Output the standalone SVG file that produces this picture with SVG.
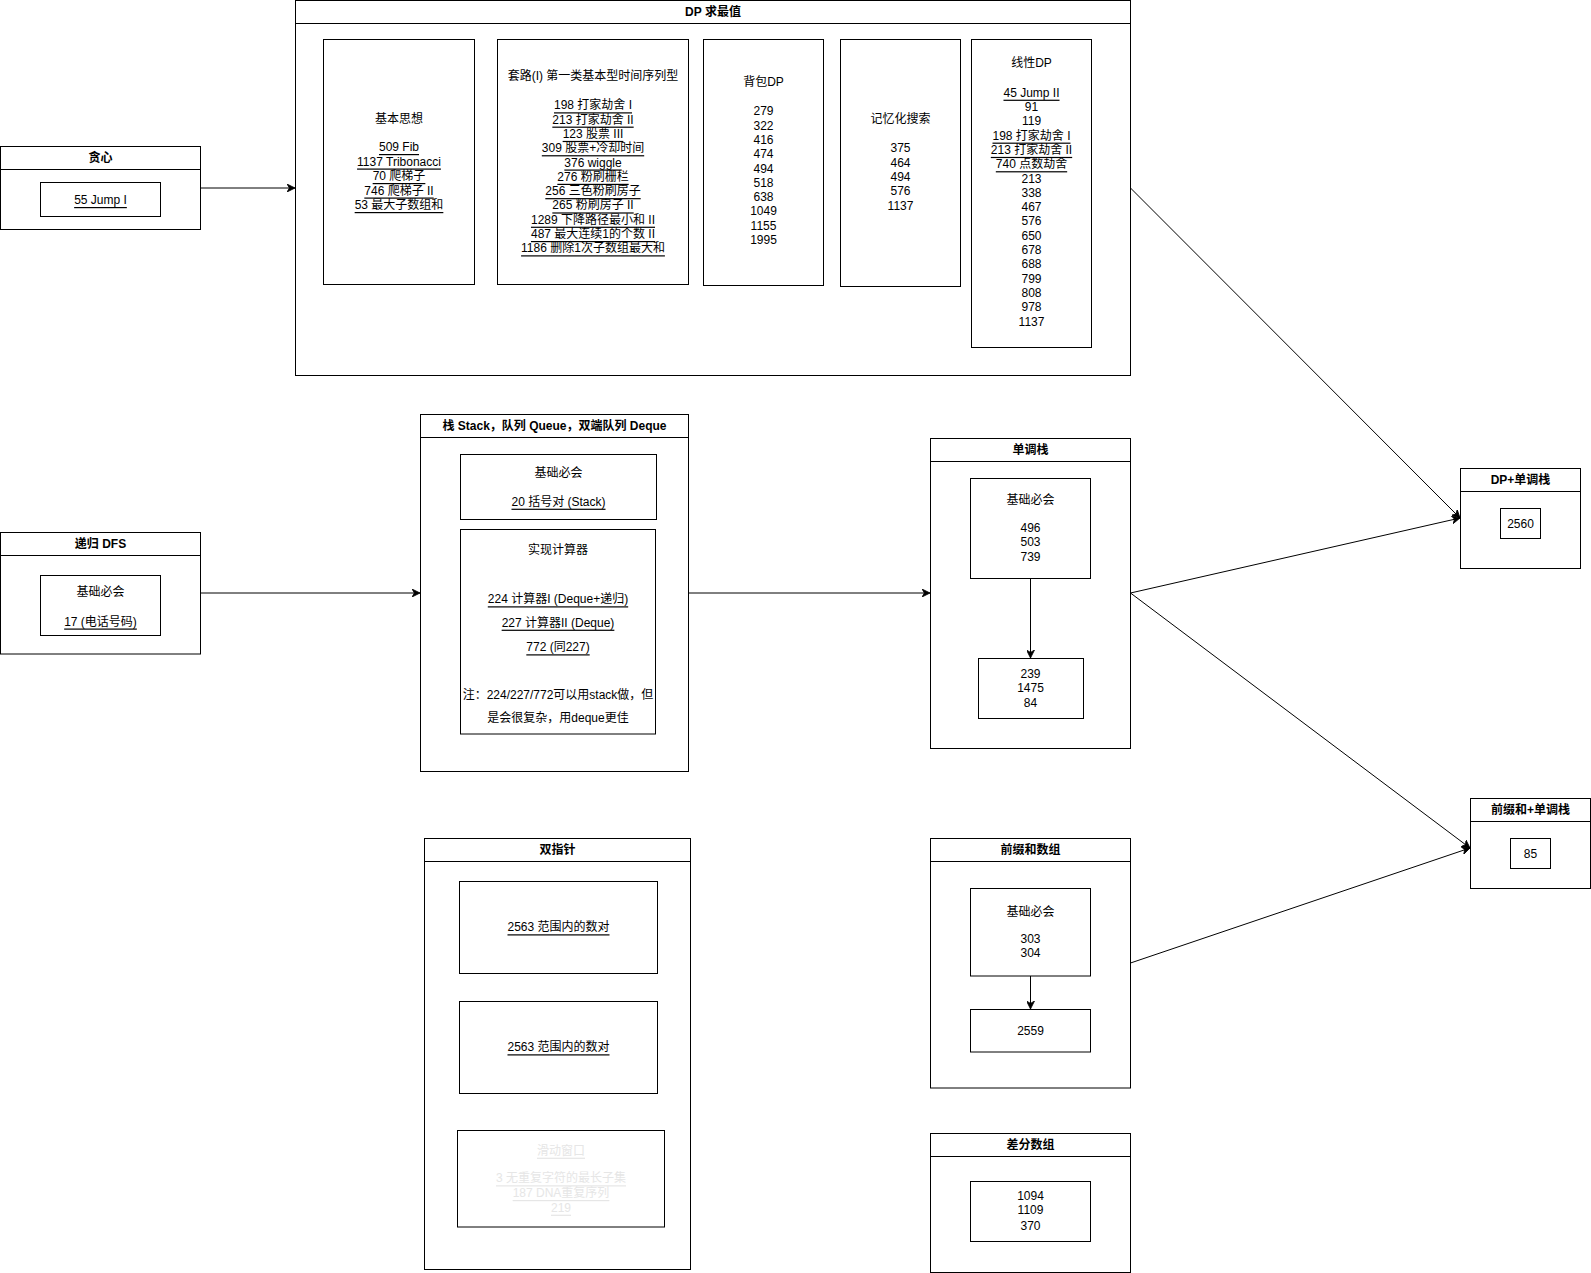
<svg xmlns="http://www.w3.org/2000/svg" width="1591" height="1273" viewBox="0 0 1591 1273">
  <defs>
    <style>
      .box { fill: #ffffff; stroke: #000000; stroke-width: 1; }
      .hdr { fill: none; stroke: #000000; stroke-width: 1; }
      text { font-family: "Liberation Sans", "Noto Sans CJK SC", sans-serif; font-size: 12px; fill: #000000; text-anchor: middle; dominant-baseline: central; }
      .title { font-weight: bold; }
      .u { text-decoration: underline; }
      .faded { fill: #e6e6e6; }
      .edge { fill: none; stroke: #000000; stroke-width: 1; }
    </style>
    <marker id="arrow" viewBox="0 0 10 10" refX="10" refY="5" markerWidth="8" markerHeight="8" markerUnits="userSpaceOnUse" orient="auto">
      <path d="M0,0 L10,5 L0,10 L3,5 z" fill="#000000" stroke="#000000" stroke-width="1"/>
    </marker>
  </defs>
  <rect width="1591" height="1273" fill="#ffffff"/>

  <!-- DP container -->
  <g id="dp">
    <rect class="box" x="295.5" y="0.5" width="835" height="375"/>
    <line class="hdr" x1="295.5" y1="23.5" x2="1130.5" y2="23.5"/>
    <text class="title" x="713" y="11.5">DP 求最值</text>
  </g>
  <g id="dp-basic">
    <rect class="box" x="323.5" y="39.5" width="151" height="245"/>
    <text x="399" y="119">基本思想</text>
    <text x="399" y="147" class="u">509 Fib</text>
    <text x="399" y="161.5" class="u">1137 Tribonacci</text>
    <text x="399" y="176" class="u">70 爬梯子</text>
    <text x="399" y="190.5" class="u">746 爬梯子 II</text>
    <text x="399" y="205" class="u">53 最大子数组和</text>
  </g>
  <g id="dp-pattern">
    <rect class="box" x="497.5" y="39.5" width="191" height="245"/>
    <text x="593" y="76">套路(I) 第一类基本型时间序列型</text>
    <text x="593" y="105.3" class="u">198 打家劫舍 I</text>
    <text x="593" y="119.6" class="u">213 打家劫舍 II</text>
    <text x="593" y="133.9" class="u">123 股票 III</text>
    <text x="593" y="148.2" class="u">309 股票+冷却时间</text>
    <text x="593" y="162.5" class="u">376 wiggle</text>
    <text x="593" y="176.8" class="u">276 粉刷栅栏</text>
    <text x="593" y="191.1" class="u">256 三色粉刷房子</text>
    <text x="593" y="205.4" class="u">265 粉刷房子 II</text>
    <text x="593" y="219.7" class="u">1289 下降路径最小和 II</text>
    <text x="593" y="234" class="u">487 最大连续1的个数 II</text>
    <text x="593" y="248.3" class="u">1186 删除1次子数组最大和</text>
  </g>
  <g id="dp-knapsack">
    <rect class="box" x="703.5" y="39.5" width="120" height="246"/>
    <text x="763.5" y="82">背包DP</text>
    <text x="763.5" y="111.3">279</text>
    <text x="763.5" y="125.6">322</text>
    <text x="763.5" y="139.9">416</text>
    <text x="763.5" y="154.2">474</text>
    <text x="763.5" y="168.5">494</text>
    <text x="763.5" y="182.8">518</text>
    <text x="763.5" y="197.1">638</text>
    <text x="763.5" y="211.4">1049</text>
    <text x="763.5" y="225.7">1155</text>
    <text x="763.5" y="240">1995</text>
  </g>
  <g id="dp-memo">
    <rect class="box" x="840.5" y="39.5" width="120" height="247"/>
    <text x="900.5" y="119.3">记忆化搜索</text>
    <text x="900.5" y="148.3">375</text>
    <text x="900.5" y="162.6">464</text>
    <text x="900.5" y="176.9">494</text>
    <text x="900.5" y="191.2">576</text>
    <text x="900.5" y="205.5">1137</text>
  </g>
  <g id="dp-linear">
    <rect class="box" x="971.5" y="39.5" width="120" height="308"/>
    <text x="1031.5" y="63">线性DP</text>
    <text x="1031.5" y="92.7" class="u">45 Jump II</text>
    <text x="1031.5" y="107">91</text>
    <text x="1031.5" y="121.3">119</text>
    <text x="1031.5" y="135.6" class="u">198 打家劫舍 I</text>
    <text x="1031.5" y="149.9" class="u">213 打家劫舍 II</text>
    <text x="1031.5" y="164.2" class="u">740 点数劫舍</text>
    <text x="1031.5" y="178.5">213</text>
    <text x="1031.5" y="192.8">338</text>
    <text x="1031.5" y="207.1">467</text>
    <text x="1031.5" y="221.4">576</text>
    <text x="1031.5" y="235.7">650</text>
    <text x="1031.5" y="250">678</text>
    <text x="1031.5" y="264.3">688</text>
    <text x="1031.5" y="278.6">799</text>
    <text x="1031.5" y="292.9">808</text>
    <text x="1031.5" y="307.2">978</text>
    <text x="1031.5" y="321.5">1137</text>
  </g>

  <!-- greedy -->
  <g id="greedy">
    <rect class="box" x="0.5" y="146.5" width="200" height="83"/>
    <line class="hdr" x1="0.5" y1="169.5" x2="200.5" y2="169.5"/>
    <text class="title" x="100.5" y="158">贪心</text>
    <rect class="box" x="40.5" y="182.5" width="120" height="34"/>
    <text x="100.5" y="200" class="u">55 Jump I</text>
  </g>

  <!-- recursion DFS -->
  <g id="dfs">
    <rect class="box" x="0.5" y="532.5" width="200" height="121.5"/>
    <line class="hdr" x1="0.5" y1="555.5" x2="200.5" y2="555.5"/>
    <text class="title" x="100.5" y="544">递归 DFS</text>
    <rect class="box" x="40.5" y="575.5" width="120" height="60"/>
    <text x="100.5" y="592">基础必会</text>
    <text x="100.5" y="621.5" class="u">17 (电话号码)</text>
  </g>

  <!-- stack / queue / deque -->
  <g id="stack">
    <rect class="box" x="420.5" y="414.5" width="268" height="357"/>
    <line class="hdr" x1="420.5" y1="437.5" x2="688.5" y2="437.5"/>
    <text class="title" x="554.5" y="426">栈 Stack，队列 Queue，双端队列 Deque</text>
    <rect class="box" x="460.5" y="454.5" width="196" height="65"/>
    <text x="558.5" y="473.3">基础必会</text>
    <text x="558.5" y="501.7" class="u">20 括号对 (Stack)</text>
    <rect class="box" x="460.5" y="529.5" width="195" height="204.5"/>
    <text x="558" y="550">实现计算器</text>
    <text x="558" y="599.3" class="u">224 计算器I (Deque+递归)</text>
    <text x="558" y="622.7" class="u">227 计算器II (Deque)</text>
    <text x="558" y="647.3" class="u">772 (同227)</text>
    <text x="558" y="695">注：224/227/772可以用stack做，但</text>
    <text x="558" y="718.3">是会很复杂，用deque更佳</text>
  </g>

  <!-- monotonic stack -->
  <g id="mono-stack">
    <rect class="box" x="930.5" y="438.5" width="200" height="310"/>
    <line class="hdr" x1="930.5" y1="461.5" x2="1130.5" y2="461.5"/>
    <text class="title" x="1030.5" y="450">单调栈</text>
    <rect class="box" x="970.5" y="478.5" width="120" height="100"/>
    <text x="1030.5" y="500">基础必会</text>
    <text x="1030.5" y="527.7">496</text>
    <text x="1030.5" y="542">503</text>
    <text x="1030.5" y="556.5">739</text>
    <rect class="box" x="978.5" y="658.5" width="105" height="60"/>
    <text x="1030.5" y="674">239</text>
    <text x="1030.5" y="688.3">1475</text>
    <text x="1030.5" y="702.6">84</text>
  </g>

  <!-- two pointers -->
  <g id="two-pointers">
    <rect class="box" x="424.5" y="838.5" width="266" height="431"/>
    <line class="hdr" x1="424.5" y1="861.5" x2="690.5" y2="861.5"/>
    <text class="title" x="557.5" y="850">双指针</text>
    <rect class="box" x="459.5" y="881.5" width="198" height="92"/>
    <text x="558.5" y="927.3" class="u">2563 范围内的数对</text>
    <rect class="box" x="459.5" y="1001.5" width="198" height="92"/>
    <text x="558.5" y="1047.3" class="u">2563 范围内的数对</text>
    <rect class="box" x="457.5" y="1130.5" width="207" height="96.5"/>
    <text x="561" y="1150.7" class="u faded">滑动窗口</text>
    <text x="561" y="1178.3" class="u faded">3 无重复字符的最长子集</text>
    <text x="561" y="1193" class="u faded">187 DNA重复序列</text>
    <text x="561" y="1207.7" class="u faded">219</text>
  </g>

  <!-- prefix sum -->
  <g id="prefix-sum">
    <rect class="box" x="930.5" y="838.5" width="200" height="249.5"/>
    <line class="hdr" x1="930.5" y1="861.5" x2="1130.5" y2="861.5"/>
    <text class="title" x="1030.5" y="850">前缀和数组</text>
    <rect class="box" x="970.5" y="888.5" width="120" height="87.5"/>
    <text x="1030.5" y="911.7">基础必会</text>
    <text x="1030.5" y="939">303</text>
    <text x="1030.5" y="953.3">304</text>
    <rect class="box" x="970.5" y="1009.5" width="120" height="42.5"/>
    <text x="1030.5" y="1030.7">2559</text>
  </g>

  <!-- difference array -->
  <g id="diff-array">
    <rect class="box" x="930.5" y="1133.5" width="200" height="139"/>
    <line class="hdr" x1="930.5" y1="1156.5" x2="1130.5" y2="1156.5"/>
    <text class="title" x="1030.5" y="1144.5">差分数组</text>
    <rect class="box" x="970.5" y="1181.5" width="120" height="60"/>
    <text x="1030.5" y="1196">1094</text>
    <text x="1030.5" y="1210.3">1109</text>
    <text x="1030.5" y="1225.6">370</text>
  </g>

  <!-- DP + monotonic stack -->
  <g id="dp-mono">
    <rect class="box" x="1460.5" y="468.5" width="120" height="100"/>
    <line class="hdr" x1="1460.5" y1="491.5" x2="1580.5" y2="491.5"/>
    <text class="title" x="1520.5" y="480">DP+单调栈</text>
    <rect class="box" x="1500.5" y="508.5" width="40" height="30"/>
    <text x="1520.5" y="523.5">2560</text>
  </g>

  <!-- prefix sum + monotonic stack -->
  <g id="prefix-mono">
    <rect class="box" x="1470.5" y="798.5" width="120" height="90"/>
    <line class="hdr" x1="1470.5" y1="821.5" x2="1590.5" y2="821.5"/>
    <text class="title" x="1530.5" y="810">前缀和+单调栈</text>
    <rect class="box" x="1510.5" y="838.5" width="40" height="30"/>
    <text x="1530.5" y="853.5">85</text>
  </g>

  <!-- connectors, drawn last so inner arrows sit above container fills -->
  <g id="connectors">
    <line class="edge" x1="200.5" y1="188" x2="295" y2="188" marker-end="url(#arrow)"/>
    <line class="edge" x1="200.5" y1="593" x2="420" y2="593" marker-end="url(#arrow)"/>
    <line class="edge" x1="688.5" y1="593" x2="930" y2="593" marker-end="url(#arrow)"/>
    <line class="edge" x1="1130.5" y1="188" x2="1460" y2="518" marker-end="url(#arrow)"/>
    <line class="edge" x1="1130.5" y1="593" x2="1460" y2="518" marker-end="url(#arrow)"/>
    <line class="edge" x1="1130.5" y1="593" x2="1470" y2="848" marker-end="url(#arrow)"/>
    <line class="edge" x1="1130.5" y1="963" x2="1470" y2="848" marker-end="url(#arrow)"/>
    <line class="edge" x1="1030.5" y1="578.5" x2="1030.5" y2="658" marker-end="url(#arrow)"/>
    <line class="edge" x1="1030.5" y1="976" x2="1030.5" y2="1009" marker-end="url(#arrow)"/>
  </g>
</svg>
